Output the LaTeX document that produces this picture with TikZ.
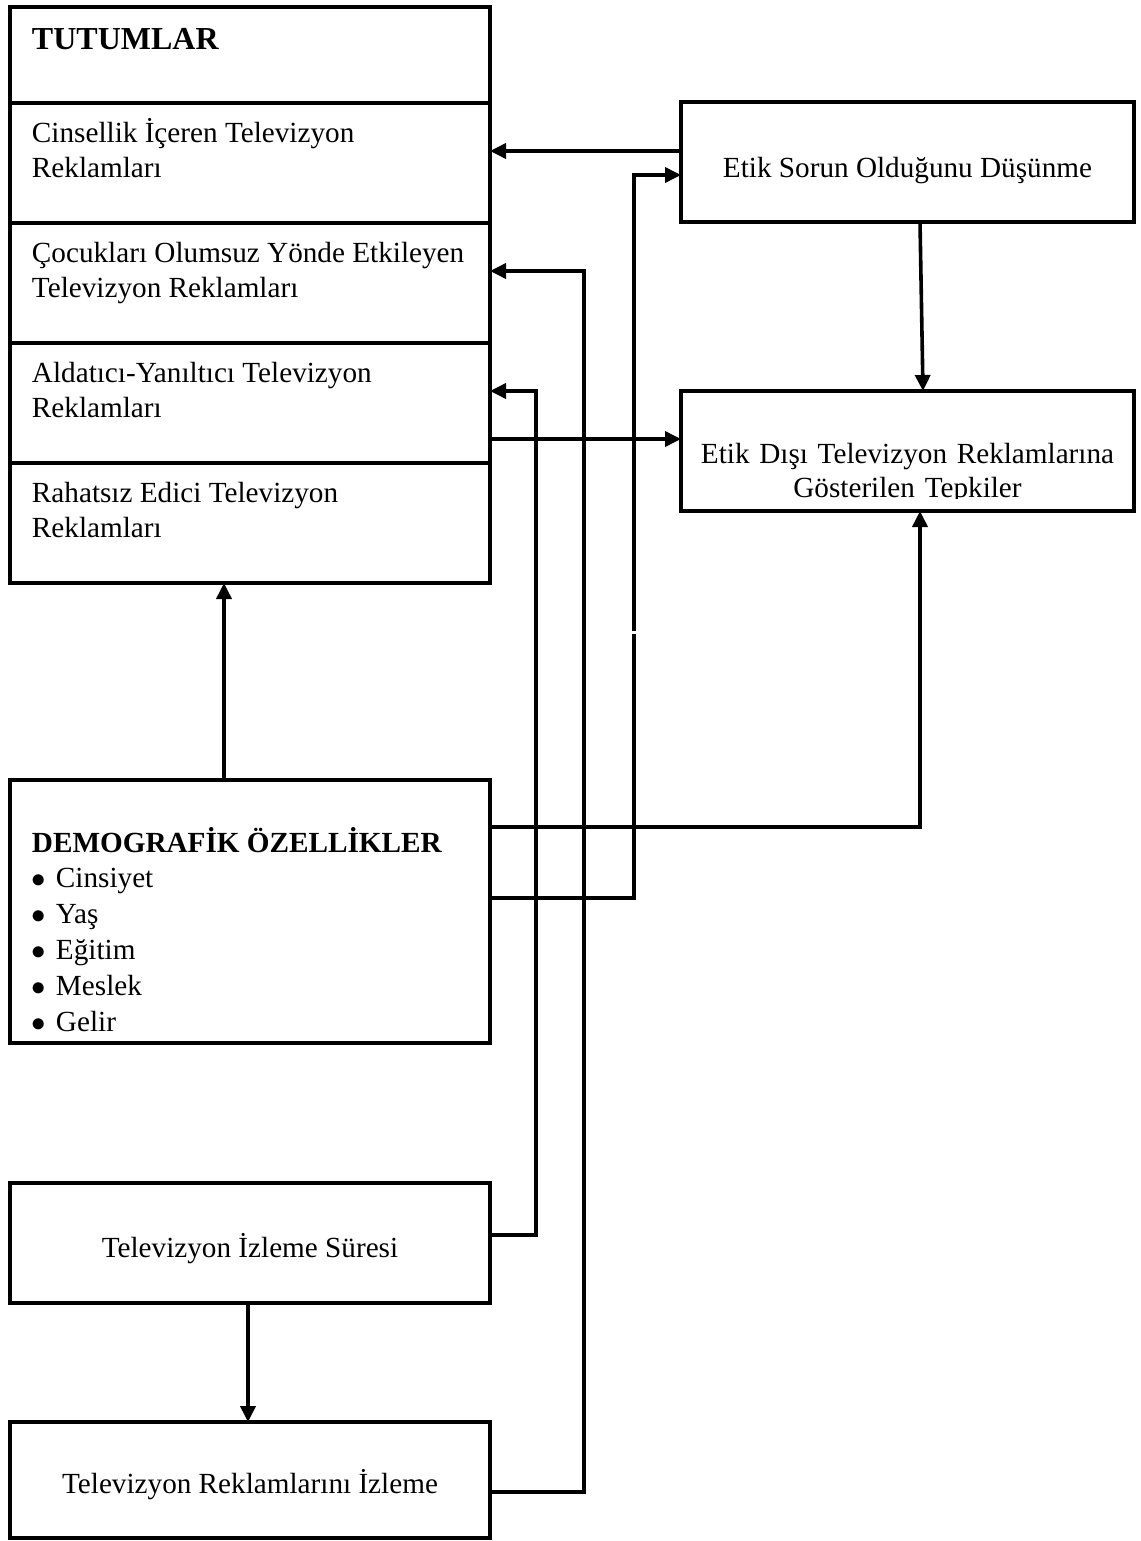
\documentclass[tikz,border=0pt]{standalone}
\usepackage{fontspec}
\setmainfont{Liberation Serif}
\usetikzlibrary{arrows.meta}
\newcommand\blt{\makebox[12pt][l]{$\bullet$}}
\begin{document}
\begin{tikzpicture}[x=0.5pt,y=-0.5pt,
  box/.style={draw, line width=2pt, inner sep=0pt, outer sep=0pt},
  ltxt/.style={inner sep=0pt, outer sep=0pt, anchor=base west, text width=232pt, align=flush left,
               font=\fontsize{14.6}{17.7}\selectfont},
  ctxt/.style={inner sep=0pt, outer sep=0pt, anchor=base, align=center,
               font=\fontsize{14.6}{17.7}\selectfont},
  conn/.style={line width=1.8pt, line join=miter},
  arr/.style={conn, -{Triangle[length=8pt,width=7.5pt]}}]

\fill[white] (0,0) rectangle (1140,1541);
\useasboundingbox (0,0) rectangle (1140,1541);

% attitude block: heading and four sections
\node[box, minimum width=240pt, minimum height=48pt] (tutum) at (250,55) {};
\node[box, minimum width=240pt, minimum height=60pt] (cins)  at (250,163) {};
\node[box, minimum width=240pt, minimum height=60pt] (cocuk) at (250,283) {};
\node[box, minimum width=240pt, minimum height=60pt] (aldat) at (250,403) {};
\node[box, minimum width=240pt, minimum height=60pt] (rahat) at (250,523) {};

\node[ltxt, font=\fontsize{16}{17.7}\selectfont\bfseries] (tutumT) at (32,50) {TUTUMLAR};
\node[ltxt] (cinsT)  at (32,142) {Cinsellik İçeren Televizyon\\Reklamları};
\node[ltxt] (cocukT) at (32,262) {Çocukları Olumsuz Yönde Etkileyen\\Televizyon Reklamları};
\node[ltxt] (aldatT) at (32,382) {Aldatıcı-Yanıltıcı Televizyon\\Reklamları};
\node[ltxt] (rahatT) at (32,502) {Rahatsız Edici Televizyon\\Reklamları};

% right-hand boxes
\node[box, minimum width=226.5pt, minimum height=60pt] (etik)     at (907.5,162) {};
\node[box, minimum width=226.5pt, minimum height=60pt] (etikdisi) at (907.5,451) {};
\node[ctxt] (etikT) at (907.5,177) {Etik Sorun Olduğunu Düşünme};
\begin{scope}
  \clip (681,395) rectangle (1134,498.5);
  \node[ctxt, text width=225pt, font=\fontsize{14.6}{17}\selectfont] (etikdisiT) at (907.5,463)
    {Etik Dışı Televizyon Reklamlarına\\Gösterilen Tepkiler};
\end{scope}

% demographic characteristics
\node[box, minimum width=240pt, minimum height=131.5pt] (demo) at (250,911.5) {};
\node[ltxt, font=\fontsize{14.6}{17.9}\selectfont] (demoT) at (32,852)
  {\textbf{DEMOGRAFİK ÖZELLİKLER}\\\blt Cinsiyet\\\blt Yaş\\\blt Eğitim\\\blt Meslek\\\blt Gelir};

% viewing boxes
\node[box, minimum width=240pt, minimum height=60pt] (sure) at (250,1243) {};
\node[box, minimum width=240pt, minimum height=58pt] (izle) at (250,1480) {};
\node[ctxt] (sureT) at (250,1257) {Televizyon İzleme Süresi};
\node[ctxt] (izleT) at (250,1493) {Televizyon Reklamlarını İzleme};

% connectors
\draw[arr] (etik.west |- 0,151) -- (cins.east |- 0,151);
\draw[arr] (demo.east |- 0,898) -- (634,898) -- (634,634) (634,631) -- (634,175) -- (etik.west |- 0,175);
\draw[arr] (izle.east |- 0,1492) -- (584,1492) -- (584,271) -- (cocuk.east |- 0,271);
\draw[arr] (sure.east |- 0,1235) -- (536,1235) -- (536,391) -- (aldat.east |- 0,391);
\draw[arr] (aldat.east |- 0,439) -- (etikdisi.west |- 0,439);
\draw[arr] (etik.south -| 920,0) -- (etikdisi.north -| 923,0);
\draw[arr] (demo.east |- 0,827) -- (920,827) -- (etikdisi.south -| 920,0);
\draw[arr] (demo.north -| 224,0) -- (rahat.south -| 224,0);
\draw[arr] (sure.south -| 248,0) -- (izle.north -| 248,0);
\end{tikzpicture}
\end{document}
